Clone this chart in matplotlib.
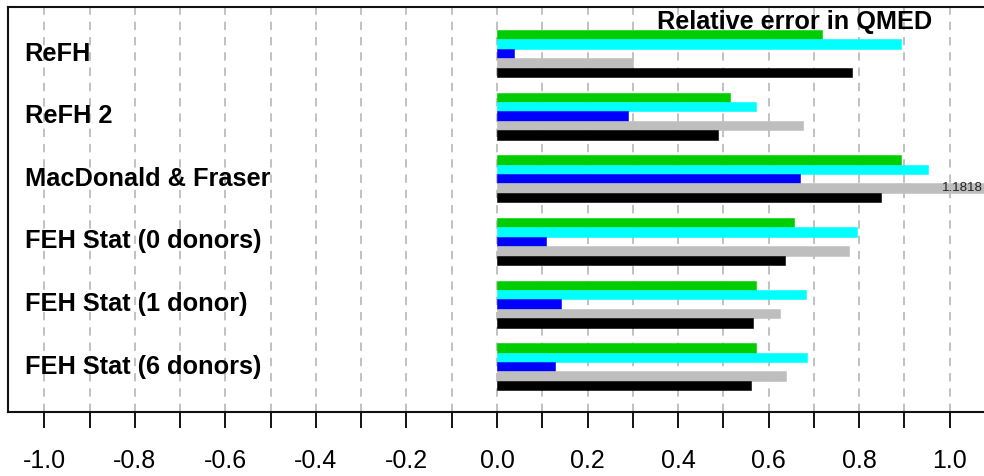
import numpy as np
import matplotlib
matplotlib.use("Agg")
import matplotlib.pyplot as plt
import matplotlib.transforms as mtransforms

plt.rcParams['font.family'] = ['Liberation Sans', 'DejaVu Sans']
plt.rcParams['lines.scale_dashes'] = False

# methods, top to bottom
methods = ["ReFH", "ReFH 2", "MacDonald & Fraser",
           "FEH Stat (0 donors)", "FEH Stat (1 donor)", "FEH Stat (6 donors)"]

# five series per method, drawn top to bottom inside each group
series_green = [0.717, 0.514, 0.893, 0.656, 0.573, 0.571]
series_cyan = [0.892, 0.571, 0.951, 0.795, 0.683, 0.685]
series_blue = [0.038, 0.290, 0.670, 0.108, 0.142, 0.127]
series_grey = [0.301, 0.676, 1.1818, 0.777, 0.626, 0.638]
series_black = [0.783, 0.489, 0.848, 0.637, 0.565, 0.561]

series_colors = ["#00CD00", "#00FFFF", "#0000FF", "#BEBEBE", "#000000"]

x_ticks = [-1.0, -0.9, -0.8, -0.7, -0.6, -0.5, -0.4, -0.3, -0.2, -0.1,
           0.0, 0.1, 0.2, 0.3, 0.4, 0.5, 0.6, 0.7, 0.8, 0.9, 1.0]
x_ticklabels = ["-1.0", "", "-0.8", "", "-0.6", "", "-0.4", "", "-0.2", "",
                "0.0", "", "0.2", "", "0.4", "", "0.6", "", "0.8", "", "1.0"]

title = "Relative error in QMED"

xmin, xmax = -1.08, 1.08
step = 6.66

fig = plt.figure(figsize=(9.84, 4.76), dpi=100)
ax = fig.add_axes([8 / 984, 64 / 476, 978 / 984, 405 / 476])

all_series = [series_green, series_cyan, series_blue, series_grey, series_black]
centers = np.arange(len(methods)) * step

for k, (vals, col) in enumerate(zip(all_series, series_colors)):
    y = centers + (k - 2)
    shown = np.minimum(vals, xmax)
    ax.barh(y, shown, height=1.0, color=col, edgecolor=col, linewidth=0.4, zorder=2)
    # value label for bars running past the axis
    for yi, v in zip(y, vals):
        if v > xmax:
            ax.text(xmax - 0.0065, yi, f"{v:.4f}", ha="right", va="center",
                    fontsize=9.5, color="#222222", zorder=3)

for c, name in zip(centers, methods):
    ax.text(-1.0435, c, name, ha="left", va="center", fontsize=18.3,
            fontweight="bold", zorder=3)

trans = mtransforms.blended_transform_factory(ax.transData, ax.transAxes)
ax.text(0.658, 0.964, title, transform=trans, ha="center", va="center",
        fontsize=18.2, fontweight="bold", zorder=3)

ax.set_xlim(xmin, xmax)
ax.set_ylim(centers[-1] + 4.82, centers[0] - 4.95)

ax.set_xticks(x_ticks)
ax.set_xticklabels(x_ticklabels, fontsize=18)
ax.set_yticks([])
ax.tick_params(axis="x", direction="out", length=11.5, width=1.3, pad=15.5)

ax.grid(axis="x", color="#B0B0B0", linestyle=(0, (6, 5)), linewidth=1.1, zorder=0)
ax.set_axisbelow(True)

for s in ax.spines.values():
    s.set_linewidth(1.5)
    s.set_color("#111111")

fig.savefig("out.png", dpi=100)
